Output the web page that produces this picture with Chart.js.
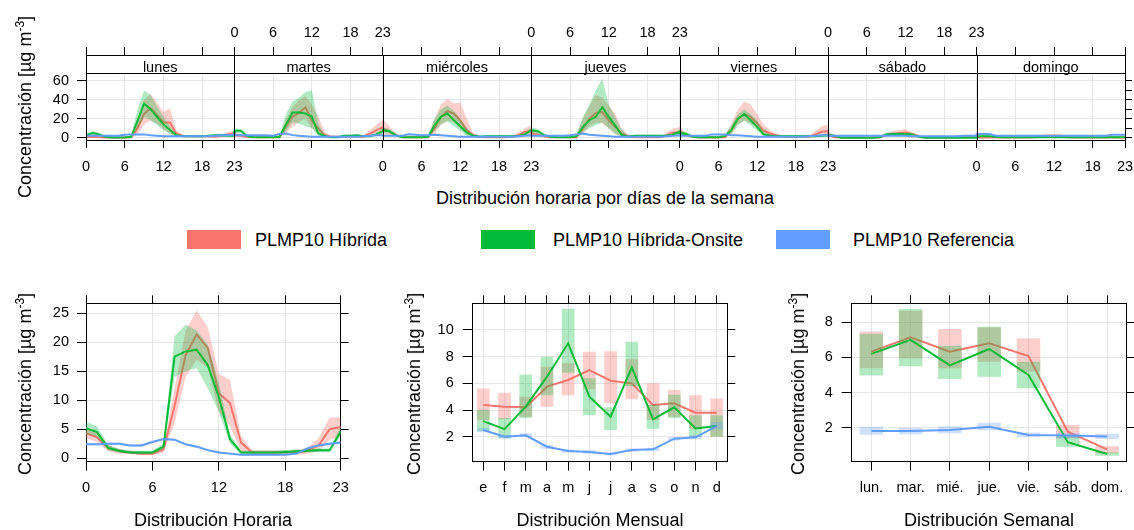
<!DOCTYPE html>
<html lang="es">
<head>
<meta charset="UTF-8">
<title>PLMP10 | Variación temporal</title>
<script src="https://cdn.jsdelivr.net/npm/chart.js"></script>
<style>
  body { margin: 0; background: #fff; }
  .pagina { position: relative; width: 1134px; height: 530px; overflow: hidden;
            font-family: "Liberation Sans", Arial, sans-serif; color: #000; }
  .pagina canvas { position: absolute; }
  .titulo { position: absolute; white-space: nowrap; font-size: 18px; line-height: 1;
            transform: translate(-50%, -50%); }
  .vertical { transform: translate(-50%, -50%) rotate(-90deg); }
  .vertical sup { font-size: 12px; }
  .caja { position: absolute; width: 54px; height: 19px; }
  .leyenda { position: absolute; white-space: nowrap; font-size: 18px; line-height: 1;
             transform: translateY(-50%); }
</style>
</head>
<body>
<div class="pagina">
  <canvas id="semanaHora" width="1160" height="180" style="left:0;top:0"></canvas>
  <canvas id="graficoHora" width="375" height="250" style="left:0;top:280px"></canvas>
  <canvas id="graficoMes" width="360" height="250" style="left:380px;top:280px"></canvas>
  <canvas id="graficoSemana" width="374" height="250" style="left:760px;top:280px"></canvas>

  <div class="titulo vertical" style="left:24px;top:107px">Concentración [µg m<sup>-3</sup>]</div>
  <div class="titulo" style="left:605px;top:198px">Distribución horaria por días de la semana</div>

  <div class="caja" style="left:187px;top:230px;background:#F8766D"></div>
  <div class="leyenda" style="left:255px;top:240px">PLMP10 Híbrida</div>
  <div class="caja" style="left:481px;top:230px;background:#00BA38"></div>
  <div class="leyenda" style="left:553px;top:240px">PLMP10 Híbrida-Onsite</div>
  <div class="caja" style="left:776px;top:230px;background:#619CFF"></div>
  <div class="leyenda" style="left:853px;top:240px">PLMP10 Referencia</div>

  <div class="titulo vertical" style="left:24px;top:384px">Concentración [µg m<sup>-3</sup>]</div>
  <div class="titulo vertical" style="left:413px;top:384px">Concentración [µg m<sup>-3</sup>]</div>
  <div class="titulo vertical" style="left:797px;top:384px">Concentración [µg m<sup>-3</sup>]</div>
  <div class="titulo" style="left:213px;top:520px">Distribución Horaria</div>
  <div class="titulo" style="left:600px;top:520px">Distribución Mensual</div>
  <div class="titulo" style="left:989px;top:520px">Distribución Semanal</div>
</div>

<script>
// ---------- datos ----------
const dias = ['lunes', 'martes', 'miércoles', 'jueves', 'viernes', 'sábado', 'domingo'];
const diasCortos = ['lun.', 'mar.', 'mié.', 'jue.', 'vie.', 'sáb.', 'dom.'];
const meses = ['e', 'f', 'm', 'a', 'm', 'j', 'j', 'a', 's', 'o', 'n', 'd'];
const horas = [0, 1, 2, 3, 4, 5, 6, 7, 8, 9, 10, 11, 12, 13, 14, 15, 16, 17, 18, 19, 20, 21, 22, 23];
const marcasHora = [0, 6, 12, 18, 23];

// hora por día de la semana (24 valores por día, de lunes a domingo)
const hibDiaHora = [
  0.5, 1, 0.5, 0.3, 0.3, 0.3, 0.3, 0.5, 10, 25, 31, 24, 16, 16, 4, 2, 1.5, 1.5, 1.5, 1.5, 1, 2, 3.5, 4.5,
  3, 2, 1, 0.5, 0.5, 0.5, 0.5, 0.5, 12, 22, 26, 32, 18, 9.5, 2.7, 1, 1, 1, 1, 1, 1, 4.4, 8, 11,
  9.6, 6.3, 2.7, 0.5, 0.5, 0.5, 0.5, 0.5, 9.6, 22, 28, 25.5, 18, 8, 2.7, 1, 0.5, 0.5, 0.5, 0.5, 1, 2.7, 6, 7.9,
  4.4, 3, 1.5, 0.5, 0.5, 0.5, 0.5, 0.5, 9.6, 20, 26, 27, 18, 11.4, 4.4, 1.6, 0.5, 0.5, 0.5, 0.5, 0.5, 2.7, 5.5, 5,
  6.3, 2.7, 1, 0.3, 0.3, 0.3, 0.3, 0.5, 7.9, 20, 24.6, 22, 15, 7.3, 4.4, 2.7, 1, 1, 1, 1, 1, 3.5, 6.3, 7,
  3, 0.5, 0.3, 0.3, 0.3, 0.3, 0.3, 0.3, 0.5, 3, 4, 5, 5.5, 4, 1.5, 0.5, 0.5, 0.5, 0.5, 0.5, 0.5, 1.5, 1.5, 1.5,
  0.5, 0.3, 0.3, 0.3, 0.3, 0.3, 0.3, 0.3, 0.3, 0.5, 1.5, 2, 2, 2, 0.5, 0.3, 0.3, 0.3, 0.3, 0.3, 0.3, 0.3, 0.3, 0.3
];
const hibDiaHoraHi = [
  1.5, 2, 1.5, 0.8, 0.8, 0.8, 0.8, 1.5, 20, 40, 46, 37, 27, 31, 8, 3, 2.5, 2.5, 2.5, 2.5, 2, 3.5, 6, 7.5,
  6, 4, 2, 1, 1, 1, 1, 1.5, 20, 32, 40, 44, 35, 22, 6, 2, 2, 2, 2, 2, 2, 8, 14, 19,
  20, 12, 5, 1, 1, 1, 1, 1.5, 20, 35, 41, 36, 37, 20, 5, 2, 1, 1, 1, 1, 2, 5, 10, 13,
  8, 6, 3, 1, 1, 1, 1, 1.5, 20, 33, 45, 42, 34, 25, 10, 3, 1, 1, 1, 1, 1, 6, 10, 11,
  12, 5, 2, 0.8, 0.8, 0.8, 0.8, 1.5, 15, 30, 38, 35, 25, 14, 8, 4, 2, 2, 2, 2, 2, 7, 12, 14,
  7, 1.5, 0.8, 0.8, 0.8, 0.8, 0.8, 0.8, 1.5, 5, 7, 8, 9, 6, 3, 1, 1, 1, 1, 1, 1, 3, 3, 3,
  1, 0.8, 0.8, 0.8, 0.8, 0.8, 0.8, 0.8, 0.8, 1, 3, 3.5, 3.5, 3.5, 1, 0.8, 0.8, 0.8, 0.8, 0.8, 0.8, 0.8, 0.8, 0.8
];
const hibDiaHoraLo = [
  0, 0.3, 0, 0, 0, 0, 0, 0, 3, 14, 18, 15, 9, 5, 1, 1, 0.8, 0.8, 0.8, 0.8, 0.3, 1, 1.5, 2,
  1, 0.5, 0.3, 0, 0, 0, 0, 0, 5, 12, 16, 20, 10, 4, 1, 0.3, 0.3, 0.3, 0.3, 0.3, 0.3, 2, 4, 6,
  3, 2.5, 1, 0, 0, 0, 0, 0, 3, 14, 18, 17, 10, 3, 1, 0.3, 0, 0, 0, 0, 0.3, 1, 2.5, 3.5,
  1.5, 1, 0.5, 0, 0, 0, 0, 0, 4, 12, 16, 15, 10, 4, 1, 0.5, 0, 0, 0, 0, 0, 1, 2, 2,
  2.5, 1, 0.3, 0, 0, 0, 0, 0, 3, 14, 18, 15, 10, 4, 2, 1, 0.3, 0.3, 0.3, 0.3, 0.3, 1, 3, 2.5,
  1, 0, 0, 0, 0, 0, 0, 0, 0, 1, 2, 2, 2, 1, 0.5, 0, 0, 0, 0, 0, 0, 0.5, 0.5, 0.5,
  0, 0, 0, 0, 0, 0, 0, 0, 0, 0, 0.5, 1, 1, 1, 0, 0, 0, 0, 0, 0, 0, 0, 0, 0
];
const onsDiaHora = [
  2.5, 4.9, 3.5, 1, 0.3, 0.3, 0.3, 1, 18, 36, 30, 22, 14, 8, 2.7, 1.5, 1.5, 1.5, 1.5, 2, 2.5, 2.5, 2, 2,
  7.3, 7.3, 1.6, 0.5, 0.5, 0.5, 0.5, 1, 14, 26.5, 26.5, 25.5, 22, 4.4, 1.6, 0.5, 0.5, 2, 2, 2.5, 1.6, 1.6, 3.5, 7,
  7.9, 6.9, 2.7, 0.5, 0.5, 0.5, 0.5, 1, 13, 22, 25.5, 18.4, 12, 5.5, 2, 1, 1.5, 1.5, 1.5, 1.5, 1.5, 1.5, 3.5, 7.9,
  7.9, 6.9, 2.7, 1, 0.5, 0.5, 0.5, 1.6, 11.4, 18.4, 22, 32, 22, 13, 3, 1, 2, 2, 2, 2, 2, 2, 3.5, 6.3,
  4.9, 3.9, 1, 0.5, 0.5, 0.5, 0.5, 1.6, 7.9, 20, 25, 18.4, 11.4, 3.5, 2, 1.6, 1.6, 1.6, 1.6, 1.6, 1.6, 1.6, 2, 2.5,
  3, 2, 0, 0, 0, 0, 0, 0, 0.5, 3.5, 4, 4, 4, 3.5, 1, 0, 0, 0, 0, 0, 0, 0, 0, 0,
  1.5, 1.5, 1.5, 1, 0.5, 0.5, 0.5, 0.5, 0.5, 0.5, 0.5, 0.5, 0.5, 0.5, 0.5, 0.5, 0.5, 0.5, 0.5, 0.5, 0.5, 0.5, 0.5, 0.5
];
const onsDiaHoraHi = [
  4, 7, 5.5, 2, 0.8, 0.8, 0.8, 3, 30, 50, 45, 33, 22, 12, 4, 2.5, 2.5, 2.5, 2.5, 3, 3.5, 3.5, 3, 3,
  10, 9, 3, 1, 1, 1, 1, 2, 25, 38, 42, 48, 50, 15, 3, 1, 1, 3, 3, 3.5, 2.5, 2.5, 5, 10,
  11, 9.5, 4, 1, 1, 1, 1, 2, 20, 30, 34, 28, 20, 10, 3, 2, 2.5, 2.5, 2.5, 2.5, 2.5, 2.5, 5, 11,
  11, 9.5, 4, 2, 1, 1, 1, 3, 22, 35, 50, 62, 35, 22, 8, 2, 3, 3, 3, 3, 3, 3, 5, 9,
  7, 6, 2, 1, 1, 1, 1, 3, 13, 25, 30, 25, 18, 7, 3, 2.5, 2.5, 2.5, 2.5, 2.5, 2.5, 2.5, 3, 3.5,
  5, 3, 0.3, 0.3, 0.3, 0.3, 0.3, 0.3, 1, 5, 5.5, 5.5, 5.5, 5, 2, 0.3, 0.3, 0.3, 0.3, 0.3, 0.3, 0.3, 0.3, 0.3,
  2.5, 2.5, 2.5, 2, 1, 1, 1, 1, 1, 1, 1, 1, 1, 1, 1, 1, 1, 1, 1, 1, 1, 1, 1, 1
];
const onsDiaHoraLo = [
  1, 3, 2, 0.3, 0, 0, 0, 0, 10, 22, 18, 13, 8, 4, 1, 0.8, 0.8, 0.8, 0.8, 1, 1.5, 1.5, 1, 1,
  5, 5, 0.5, 0, 0, 0, 0, 0.3, 7, 16, 15, 12, 10, 2, 0.5, 0, 0, 1, 1, 1.5, 0.8, 0.8, 2, 4.5,
  5, 4.5, 1.5, 0, 0, 0, 0, 0.3, 7, 14, 17, 12, 7, 2, 1, 0.3, 0.8, 0.8, 0.8, 0.8, 0.8, 0.8, 2, 5,
  5, 4.5, 1.5, 0.3, 0, 0, 0, 0.5, 6, 10, 13, 16, 10, 4, 1, 0.3, 1, 1, 1, 1, 1, 1, 2, 4,
  3, 2, 0.3, 0, 0, 0, 0, 0.5, 4, 13, 18, 13, 7, 2, 1, 0.8, 0.8, 0.8, 0.8, 0.8, 0.8, 0.8, 1, 1.5,
  1.5, 1, 0, 0, 0, 0, 0, 0, 0, 2, 2.5, 2.5, 2.5, 2, 0.3, 0, 0, 0, 0, 0, 0, 0, 0, 0,
  0.8, 0.8, 0.8, 0.5, 0, 0, 0, 0, 0, 0, 0, 0, 0, 0, 0, 0, 0, 0, 0, 0, 0, 0, 0, 0
];
const refDiaHora = [
  2, 2, 2, 2, 2, 2, 3, 3.5, 3.5, 3.5, 2.5, 2, 1.5, 1.5, 1.5, 1.5, 1.5, 1.5, 1.5, 1.5, 2, 2.5, 2.5, 3,
  2.5, 2.5, 2.5, 2.5, 2.5, 2.5, 2, 3.9, 4.4, 2.7, 2, 1.5, 1, 1, 1, 1, 1, 1, 1, 1, 1.5, 2, 2.5, 2.5,
  2, 2, 2, 2, 3.5, 3, 2.5, 2.5, 3, 2.5, 2, 1.5, 1, 1, 1, 1, 1, 1, 1, 1, 1, 1.5, 2, 2.5,
  2, 2, 2, 2, 2, 2, 2.5, 3.5, 4.5, 3, 2.5, 2, 1.5, 1, 1, 1, 1, 1, 1, 1, 1, 1.5, 2, 2.5,
  2, 2, 2, 2, 2, 3.5, 3.5, 3.5, 2.5, 2.5, 2, 1.5, 1, 1, 1, 1, 1, 1, 1, 1, 1.5, 2, 2.5, 2.5,
  2, 2, 2, 2, 2, 2, 2, 2, 2, 2, 2, 2, 2, 1.5, 1.5, 1.5, 1.5, 1.5, 1.5, 1.5, 1.5, 2, 2, 2,
  4, 4, 4, 2, 2, 2, 2, 2, 2, 2, 2, 2, 2, 2, 2, 2, 2, 2, 2, 2, 2, 3, 3, 3
];

// distribución horaria
const hibHora   = [4.3, 3.6, 1.7, 1.2, 1.0, 0.8, 0.8, 1.5, 9.0, 17.8, 21.3, 19.0, 11.2, 9.5, 2.7, 1.0, 1.0, 1.0, 1.0, 1.0, 1.3, 2.2, 5.0, 5.4];
const hibHoraLo = [3.5, 2.8, 1.2, 0.8, 0.7, 0.5, 0.5, 1.0, 6.0, 14.0, 17.0, 15.5, 8.0, 5.5, 1.2, 0.6, 0.6, 0.6, 0.6, 0.6, 0.8, 1.2, 3.2, 3.8];
const hibHoraHi = [5.2, 4.5, 2.3, 1.6, 1.3, 1.1, 1.1, 2.0, 12.0, 22.0, 25.5, 22.5, 14.5, 13.5, 3.8, 1.4, 1.4, 1.4, 1.4, 1.4, 1.8, 3.5, 7.0, 7.0];
const onsHora   = [5.2, 4.5, 1.8, 1.3, 1.0, 1.0, 1.0, 2.0, 17.5, 18.4, 18.7, 16.0, 10.5, 3.3, 1.0, 1.0, 1.0, 1.0, 1.1, 1.2, 1.3, 1.4, 1.4, 4.6];
const onsHoraLo = [4.2, 3.8, 1.4, 1.0, 0.8, 0.8, 0.8, 1.5, 14.0, 15.0, 15.5, 12.0, 8.0, 2.5, 0.7, 0.7, 0.7, 0.7, 0.8, 0.9, 1.0, 1.1, 1.1, 3.8];
const onsHoraHi = [6.3, 5.5, 2.3, 1.6, 1.3, 1.3, 1.3, 2.6, 21.0, 23.0, 22.0, 19.5, 13.0, 4.2, 1.3, 1.3, 1.3, 1.3, 1.4, 1.5, 1.6, 1.7, 1.7, 5.5];
const refHora   = [2.4, 2.4, 2.5, 2.5, 2.2, 2.2, 2.8, 3.3, 3.2, 2.4, 2.0, 1.4, 1.0, 0.8, 0.6, 0.6, 0.6, 0.6, 0.6, 0.8, 1.7, 2.2, 2.5, 2.7];
const refHoraLo = [2.2, 2.2, 2.3, 2.3, 2.0, 2.0, 2.6, 3.1, 3.0, 2.2, 1.8, 1.2, 0.8, 0.6, 0.45, 0.45, 0.45, 0.45, 0.45, 0.6, 1.5, 2.0, 2.3, 2.5];
const refHoraHi = [2.6, 2.6, 2.7, 2.7, 2.4, 2.4, 3.0, 3.5, 3.4, 2.6, 2.2, 1.6, 1.2, 1.0, 0.75, 0.75, 0.75, 0.75, 0.75, 1.0, 1.9, 2.4, 2.7, 2.9];

// distribución mensual
const hibMes   = [4.37, 4.25, 4.2, 5.75, 6.25, 7.0, 6.2, 6.0, 4.37, 4.5, 3.8, 3.8];
const hibMesLo = [3.25, 3.3, 3.5, 4.25, 5.1, 5.55, 4.5, 4.8, 3.25, 3.5, 2.6, 2.0];
const hibMesHi = [5.62, 5.3, 5.0, 7.25, 7.5, 8.37, 8.4, 7.8, 6.0, 5.5, 5.1, 4.87];
const onsMes   = [3.17, 2.57, 4.25, 6.5, 9.0, 5.0, 3.5, 7.2, 3.3, 4.2, 2.62, 2.8];
const onsMesLo = [2.4, 1.9, 3.4, 5.1, 6.8, 3.6, 2.5, 5.8, 2.6, 3.4, 2.0, 2.0];
const onsMesHi = [4.0, 3.4, 6.67, 8.0, 11.6, 6.38, 4.2, 9.12, 4.37, 5.15, 3.6, 3.6];
const refMes   = [2.5, 2.0, 2.1, 1.25, 0.93, 0.85, 0.7, 1.0, 1.05, 1.85, 1.95, 2.8];
const refMesLo = [2.35, 1.85, 1.95, 1.1, 0.8, 0.72, 0.6, 0.88, 0.92, 1.72, 1.8, 2.55];
const refMesHi = [2.65, 2.15, 2.25, 1.4, 1.06, 0.98, 0.8, 1.12, 1.18, 1.98, 2.1, 3.1];

// distribución semanal
const hibSem   = [6.33, 7.15, 6.33, 6.8, 6.08, 1.77, 0.77];
const hibSemLo = [5.38, 5.95, 5.38, 5.75, 5.2, 1.4, 0.55];
const hibSemHi = [7.47, 8.65, 7.62, 7.7, 7.09, 2.15, 0.95];
const onsSem   = [6.2, 7.0, 5.55, 6.48, 5.0, 1.17, 0.5];
const onsSemLo = [4.97, 5.5, 4.77, 4.9, 4.24, 0.92, 0.4];
const onsSemHi = [7.35, 8.75, 6.65, 7.75, 5.76, 1.55, 0.6];
const refSem   = [1.81, 1.81, 1.87, 2.05, 1.58, 1.55, 1.5];
const refSemLo = [1.6, 1.62, 1.68, 1.85, 1.45, 1.4, 1.35];
const refSemHi = [2.05, 2.0, 2.08, 2.28, 1.72, 1.7, 1.65];

// ---------- estilo ----------
const ROJO = '#F8766D', VERDE = '#00BA38', AZUL = '#619CFF';
const ROJO_BANDA = 'rgba(248,118,109,0.35)';
const VERDE_BANDA = 'rgba(0,186,56,0.3)';
const AZUL_BANDA = 'rgba(97,156,255,0.3)';
const GRIS = '#e6e6e6';
const ALTO_TIRA = 18;

Chart.defaults.font.family = '"Liberation Sans", Arial, sans-serif';
Chart.defaults.font.size = 14.5;
Chart.defaults.color = '#000';

// tamaño fijo de cada eje para que las áreas de dibujo queden alineadas
function fijo(tam) {
  return function (scale) {
    if (scale.isHorizontal()) scale.height = tam; else scale.width = tam;
  };
}
function marcas(valores) {
  return function (scale) { scale.ticks = valores.map(v => ({ value: v })); };
}

// banda (relleno entre lo y hi) + línea media
function bandaLinea(lo, hi, media, color, relleno, orden, conv) {
  return [
    { data: conv(lo), borderColor: 'transparent', borderWidth: 0, pointRadius: 0, fill: false, order: orden + 1 },
    { data: conv(hi), borderColor: 'transparent', borderWidth: 0, pointRadius: 0, fill: '-1', backgroundColor: relleno, order: orden + 1 },
    { data: conv(media), borderColor: color, borderWidth: 2, pointRadius: 0, fill: false, order: orden }
  ];
}
function cajas(lo, hi, relleno, orden) {
  return { type: 'bar', data: lo.map((v, i) => [v, hi[i]]), backgroundColor: relleno, borderWidth: 0,
           grouped: false, barPercentage: 0.6, categoryPercentage: 1, order: orden };
}
function linea(media, color, orden) {
  return { type: 'line', data: media, borderColor: color, borderWidth: 2, pointRadius: 0, fill: false, order: orden };
}

const sinExtras = { legend: { display: false }, tooltip: { enabled: false } };

// ---------- hora por día de la semana ----------
const porSemana = vals => vals.map((v, i) => ({ x: 23 * Math.floor(i / 24) + i % 24, y: v }));
const porHora = vals => vals.map((v, i) => ({ x: horas[i], y: v }));

const posSemana = [];
for (let d = 0; d < 7; d++) posSemana.push(23 * d, 23 * d + 6, 23 * d + 12, 23 * d + 18);
posSemana.push(161);

// etiquetas alternadas: lunes, miércoles, viernes y domingo abajo; el resto arriba
function etiquetaSemana(abajo) {
  return function (valor) {
    const d = Math.floor(valor / 23), h = valor - 23 * d;
    if (h !== 0) return ((d % 2 === 0) === abajo) ? String(h) : '';
    if (abajo) return d % 2 === 0 ? '0' : '23';
    if (d === 0 || d === 7) return '';
    return d % 2 === 1 ? '0' : '23';
  };
}

const tirasDias = {
  id: 'tirasDias',
  beforeDatasetsDraw(chart) {
    const { ctx, chartArea: a, scales: { x } } = chart;
    ctx.save();
    ctx.fillStyle = '#fff';
    ctx.fillRect(a.left, a.top, a.right - a.left, ALTO_TIRA);
    ctx.fillStyle = '#000';
    ctx.font = '14.5px "Liberation Sans", Arial, sans-serif';
    ctx.textAlign = 'center';
    dias.forEach((dia, d) => {
      const centro = (x.getPixelForValue(23 * d) + x.getPixelForValue(23 * d + 23)) / 2;
      ctx.fillText(dia, centro, a.top + 16.5);
    });
    ctx.restore();
  },
  afterDatasetsDraw(chart) {
    const { ctx, chartArea: a, scales: { x } } = chart;
    ctx.save();
    ctx.strokeStyle = '#000';
    ctx.lineWidth = 1;
    ctx.beginPath();
    for (let d = 1; d < 7; d++) {
      const px = Math.round(x.getPixelForValue(23 * d)) + 0.5;
      ctx.moveTo(px, a.top);
      ctx.lineTo(px, a.bottom);
    }
    const yt = Math.round(a.top + ALTO_TIRA) + 0.5;
    ctx.moveTo(a.left, yt);
    ctx.lineTo(a.right, yt);
    ctx.stroke();
    ctx.strokeRect(Math.round(a.left) + 0.5, Math.round(a.top) + 0.5,
                   Math.round(a.right - a.left), Math.round(a.bottom - a.top));
    ctx.restore();
  }
};

new Chart(document.getElementById('semanaHora'), {
  type: 'line',
  data: {
    datasets: [
      ...bandaLinea(hibDiaHoraLo, hibDiaHoraHi, hibDiaHora, ROJO, ROJO_BANDA, 5, porSemana),
      ...bandaLinea(onsDiaHoraLo, onsDiaHoraHi, onsDiaHora, VERDE, VERDE_BANDA, 3, porSemana),
      { data: porSemana(refDiaHora), borderColor: AZUL, borderWidth: 2, pointRadius: 0, fill: false, order: 1 }
    ]
  },
  options: {
    responsive: false, animation: false, plugins: sinExtras,
    scales: {
      x: {
        type: 'linear', position: 'bottom', min: 0, max: 161,
        afterBuildTicks: marcas(posSemana), afterFit: fijo(40),
        grid: { color: GRIS, tickColor: '#000', tickLength: 8 }, border: { color: '#000' },
        ticks: { callback: etiquetaSemana(true), autoSkip: false, maxRotation: 0, minRotation: 0, padding: 10 }
      },
      x2: {
        type: 'linear', position: 'top', min: 0, max: 161,
        afterBuildTicks: marcas(posSemana), afterFit: fijo(55),
        grid: { drawOnChartArea: false, tickColor: '#000', tickLength: 8 }, border: { color: '#000' },
        ticks: { callback: etiquetaSemana(false), autoSkip: false, maxRotation: 0, minRotation: 0, padding: 5 }
      },
      y: {
        min: -2.42, max: 87.05,
        afterBuildTicks: marcas([0, 10, 20, 30, 40, 50, 60]), afterFit: fijo(86),
        grid: { color: GRIS, tickColor: '#000', tickLength: 9 }, border: { color: '#000' },
        ticks: { callback: v => (v % 20 === 0 ? v : ''), padding: 8 }
      },
      y2: {
        position: 'right', min: -2.42, max: 87.05,
        afterBuildTicks: marcas([0, 10, 20, 30, 40, 50, 60]), afterFit: fijo(35),
        grid: { drawOnChartArea: false, tickColor: '#000', tickLength: 7 }, border: { color: '#000' },
        ticks: { display: false }
      }
    }
  },
  plugins: [tirasDias]
});

// ---------- distribución horaria ----------
new Chart(document.getElementById('graficoHora'), {
  type: 'line',
  data: {
    datasets: [
      ...bandaLinea(hibHoraLo, hibHoraHi, hibHora, ROJO, ROJO_BANDA, 5, porHora),
      ...bandaLinea(onsHoraLo, onsHoraHi, onsHora, VERDE, VERDE_BANDA, 3, porHora),
      ...bandaLinea(refHoraLo, refHoraHi, refHora, AZUL, AZUL_BANDA, 1, porHora)
    ]
  },
  options: {
    responsive: false, animation: false, plugins: sinExtras,
    scales: {
      x: {
        type: 'linear', position: 'bottom', min: 0, max: 23,
        afterBuildTicks: marcas(marcasHora), afterFit: fijo(68.3),
        grid: { color: GRIS, tickColor: '#000', tickLength: 9 }, border: { color: '#000' },
        ticks: { autoSkip: false, maxRotation: 0, minRotation: 0, padding: 9 }
      },
      x2: {
        type: 'linear', position: 'top', min: 0, max: 23,
        afterBuildTicks: marcas(marcasHora), afterFit: fijo(23.3),
        grid: { drawOnChartArea: false, tickColor: '#000', tickLength: 8 }, border: { color: '#000' },
        ticks: { display: false }
      },
      y: {
        min: -0.59, max: 26.68,
        afterBuildTicks: marcas([0, 5, 10, 15, 20, 25]), afterFit: fijo(86),
        grid: { color: GRIS, tickColor: '#000', tickLength: 9 }, border: { color: '#000' },
        ticks: { padding: 8 }
      },
      y2: {
        position: 'right', min: -0.59, max: 26.68,
        afterBuildTicks: marcas([0, 5, 10, 15, 20, 25]), afterFit: fijo(34.3),
        grid: { drawOnChartArea: false, tickColor: '#000', tickLength: 8 }, border: { color: '#000' },
        ticks: { display: false }
      }
    }
  }
});

// ---------- mensual y semanal (cajas de intervalo + medias) ----------
function graficoCategorias(id, etiquetas, series, rangoY, marcasY, anchoY, anchoY2) {
  return new Chart(document.getElementById(id), {
    type: 'bar',
    data: { labels: etiquetas, datasets: series },
    options: {
      responsive: false, animation: false, plugins: sinExtras,
      scales: {
        x: {
          type: 'category', position: 'bottom', offset: true, afterFit: fijo(68.3),
          grid: { color: GRIS, tickColor: '#000', tickLength: 9, offset: false }, border: { color: '#000' },
          ticks: { autoSkip: false, maxRotation: 0, minRotation: 0, padding: 9 }
        },
        x2: {
          type: 'category', position: 'top', offset: true, afterFit: fijo(23.3),
          grid: { drawOnChartArea: false, tickColor: '#000', tickLength: 8, offset: false }, border: { color: '#000' },
          ticks: { display: false }
        },
        y: {
          min: rangoY[0], max: rangoY[1],
          afterBuildTicks: marcas(marcasY), afterFit: fijo(anchoY),
          grid: { color: GRIS, tickColor: '#000', tickLength: 10 }, border: { color: '#000' },
          ticks: { padding: 9 }
        },
        y2: {
          position: 'right', min: rangoY[0], max: rangoY[1],
          afterBuildTicks: marcas(marcasY), afterFit: fijo(anchoY2),
          grid: { drawOnChartArea: false, tickColor: '#000', tickLength: 8 }, border: { color: '#000' },
          ticks: { display: false }
        }
      }
    }
  });
}

graficoCategorias('graficoMes', meses, [
  cajas(hibMesLo, hibMesHi, ROJO_BANDA, 6), linea(hibMes, ROJO, 5),
  cajas(onsMesLo, onsMesHi, VERDE_BANDA, 4), linea(onsMes, VERDE, 3),
  cajas(refMesLo, refMesHi, AZUL_BANDA, 2), linea(refMes, AZUL, 1)
], [0.125, 12.0], [2, 4, 6, 8, 10], 92.7, 12.7);

graficoCategorias('graficoSemana', diasCortos, [
  cajas(hibSemLo, hibSemHi, ROJO_BANDA, 6), linea(hibSem, ROJO, 5),
  cajas(onsSemLo, onsSemHi, VERDE_BANDA, 4), linea(onsSem, VERDE, 3),
  cajas(refSemLo, refSemHi, AZUL_BANDA, 2), linea(refSem, AZUL, 1)
], [0.064, 9.08], [2, 4, 6, 8], 91.7, 7.3);
</script>
</body>
</html>
